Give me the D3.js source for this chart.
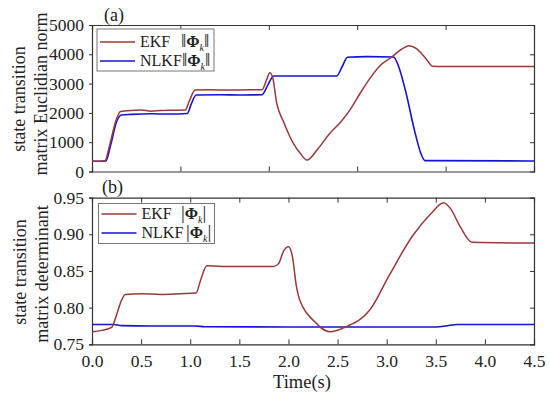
<!DOCTYPE html>
<html>
<head>
<meta charset="utf-8">
<script src="https://cdn.jsdelivr.net/npm/d3@7"></script>
<style>
  body { margin: 0; background: #fff; }
  svg text, svg tspan { font-family: "Liberation Serif", "Times New Roman", Times, "DejaVu Serif", serif !important; }
</style>
</head>
<body>
<div id="chart"></div>
<script>
// panel (a): state transition matrix Euclidian norm  [time s, value]
var normEKF = [
  [0, 350], [0.13, 360], [0.18, 900], [0.24, 1700], [0.29, 2050], [0.35, 2070], [0.5, 2100],
  [0.6, 2060], [0.7, 2080], [0.8, 2090], [0.95, 2100], [0.99, 2400], [1.05, 2780], [1.2, 2790],
  [1.4, 2780], [1.6, 2790], [1.73, 2790], [1.78, 3150], [1.81, 3370], [1.84, 3200], [1.88, 2340],
  [1.95, 1700], [2.05, 960], [2.12, 620], [2.19, 390], [2.29, 730], [2.42, 1300], [2.53, 1680],
  [2.63, 2120], [2.73, 2670], [2.83, 3180], [2.93, 3600], [3.05, 3900], [3.15, 4170], [3.23, 4290],
  [3.3, 4200], [3.4, 3850], [3.47, 3590], [3.55, 3580], [4.5, 3580]
];
var normNLKF = [
  [0, 350], [0.14, 360], [0.19, 900], [0.25, 1700], [0.3, 1930], [0.4, 1950], [0.6, 1970],
  [0.8, 1960], [0.97, 1980], [1.01, 2300], [1.06, 2610], [1.3, 2620], [1.5, 2610], [1.73, 2620],
  [1.79, 2950], [1.85, 3260], [2.2, 3260], [2.49, 3260], [2.55, 3600], [2.6, 3900], [2.8, 3920],
  [3.07, 3910], [3.12, 3600], [3.19, 2780], [3.29, 1310], [3.35, 600], [3.39, 370], [4.5, 360]
];
// panel (b): state transition matrix determinant
var detEKF = [
  [0, 0.767], [0.1, 0.769], [0.2, 0.773], [0.25, 0.79], [0.3, 0.81], [0.34, 0.818], [0.5, 0.819],
  [0.7, 0.818], [0.9, 0.819], [1.06, 0.82], [1.1, 0.835], [1.17, 0.857], [1.4, 0.856], [1.6, 0.856],
  [1.85, 0.856], [1.9, 0.86], [1.95, 0.877], [2.0, 0.883], [2.04, 0.87], [2.08, 0.83], [2.1, 0.817],
  [2.15, 0.8], [2.25, 0.783], [2.42, 0.767], [2.59, 0.774], [2.83, 0.797], [3.03, 0.845],
  [3.27, 0.899], [3.45, 0.928], [3.58, 0.943], [3.65, 0.935], [3.75, 0.91], [3.87, 0.889], [4.5, 0.888]
];
var detNLKF = [
  [0, 0.777], [0.22, 0.777], [0.3, 0.7755], [0.6, 0.775], [1.05, 0.775], [1.15, 0.774], [2.0, 0.7735],
  [3.45, 0.7735], [3.6, 0.775], [3.72, 0.777], [4.5, 0.777]
];

var timeTicks = [0, 0.5, 1, 1.5, 2, 2.5, 3, 3.5, 4, 4.5];
var normTicks = [0, 1000, 2000, 3000, 4000, 5000];
var detTicks = [0.75, 0.80, 0.85, 0.90, 0.95];

var w = 550, h = 394;
var colEKF = '#9c3838', colNLKF = '#1414d2';

var svg = d3.select('#chart').append('svg').attr('width', w).attr('height', h);

var x = d3.scaleLinear().domain([0, 4.5]).range([92, 534]);
var yA = d3.scaleLinear().domain([0, 5000]).range([171.5, 25]);
var yB = d3.scaleLinear().domain([0.75, 0.95]).range([344.3, 197.6]);

function panel(y, yTicks, fmt, showX, topTicks, bottomTicks) {
  var g = svg.append('g');
  var top = y.range()[1], bot = y.range()[0];

  g.append('g').attr('transform', 'translate(0,' + bot + ')')
    .call(d3.axisBottom(x).tickValues(bottomTicks).tickSize(-5).tickPadding(10)
      .tickFormat(showX ? d3.format('.1f') : function () { return ''; }));
  g.append('g').attr('transform', 'translate(0,' + top + ')')
    .call(d3.axisTop(x).tickValues(topTicks).tickSize(-5).tickFormat(''));
  g.append('g').attr('transform', 'translate(92,0)')
    .call(d3.axisLeft(y).tickValues(yTicks).tickSize(3).tickPadding(5).tickFormat(fmt));
  g.append('g').attr('transform', 'translate(534,0)')
    .call(d3.axisRight(y).tickValues(yTicks.slice(1, -1)).tickSize(-4).tickFormat(''));

  g.selectAll('g').attr('font-size', 17.5);
  g.selectAll('.domain').attr('stroke', '#333').attr('stroke-width', 1.2);
  g.selectAll('.tick line').attr('stroke', '#333');
  g.selectAll('.tick text').attr('fill', '#222');
  return g;
}

panel(yA, normTicks, d3.format('d'), false, [0.9, 1.8, 2.7, 3.6], [0.9, 1.8, 2.7, 3.6]);
panel(yB, detTicks, d3.format('.2f'), true, timeTicks.slice(1, -1), timeTicks);

function line(y) {
  return d3.line().x(function (d) { return x(d[0]); }).y(function (d) { return y(d[1]); })
    .curve(d3.curveMonotoneX);
}

svg.append('path').attr('d', line(yA)(normNLKF)).attr('fill', 'none').attr('stroke', colNLKF).attr('stroke-width', 1.6);
svg.append('path').attr('d', line(yA)(normEKF)).attr('fill', 'none').attr('stroke', colEKF).attr('stroke-width', 1.5);
svg.append('path').attr('d', line(yB)(detNLKF)).attr('fill', 'none').attr('stroke', colNLKF).attr('stroke-width', 1.6);
svg.append('path').attr('d', line(yB)(detEKF)).attr('fill', 'none').attr('stroke', colEKF).attr('stroke-width', 1.5);

// legends
function legend(x0, y0, wd, ht, rows, bar) {
  var g = svg.append('g');
  g.append('rect').attr('x', x0).attr('y', y0).attr('width', wd).attr('height', ht)
    .attr('fill', '#fff').attr('stroke', '#777').attr('stroke-width', 1);
  rows.forEach(function (r) {
    g.append('line').attr('x1', x0 + 3).attr('x2', x0 + 38).attr('y1', r.y).attr('y2', r.y)
      .attr('stroke', r.color).attr('stroke-width', 1.6);
    g.append('text').attr('x', x0 + 43).attr('y', r.y + 5).attr('font-size', 16).attr('fill', '#222').text(r.name);
    var t = g.append('text').attr('x', r.sx).attr('y', r.y + 5).attr('font-size', 16).attr('fill', '#222');
    t.append('tspan').attr('font-size', 19).text(bar);
    t.append('tspan').attr('font-weight', 'bold').text('Φ');
    t.append('tspan').attr('font-style', 'italic').attr('font-size', 10).attr('dy', 4).text('k');
    t.append('tspan').attr('font-size', 19).attr('dy', -4).text(bar);
  });
}
legend(97, 29, 117, 42, [
  { name: 'EKF', color: colEKF, y: 42, sx: 181 },
  { name: 'NLKF', color: colNLKF, y: 61, sx: 182 }
], '‖');
legend(98.5, 203.5, 116, 40, [
  { name: 'EKF', color: colEKF, y: 214, sx: 181 },
  { name: 'NLKF', color: colNLKF, y: 233, sx: 186 }
], '|');

// panel labels and titles
svg.append('text').attr('x', 104).attr('y', 21).attr('font-size', 18).attr('fill', '#222').text('(a)');
svg.append('text').attr('x', 102).attr('y', 193).attr('font-size', 18).attr('fill', '#222').text('(b)');

svg.append('text').attr('x', 302).attr('y', 388).attr('text-anchor', 'middle')
  .attr('font-size', 18.5).attr('fill', '#222').text('Time(s)');

function ytitle(cx, cy, txt) {
  svg.append('text').attr('transform', 'translate(' + cx + ',' + cy + ') rotate(-90)')
    .attr('text-anchor', 'middle').attr('dy', '0.35em').attr('font-size', 18)
    .attr('fill', '#222').text(txt);
}
ytitle(19, 99, 'state transition');
ytitle(41, 94, 'matrix Euclidian norm');
ytitle(20, 272, 'state transition');
ytitle(42, 274, 'matrix determinant');
</script>
</body>
</html>
